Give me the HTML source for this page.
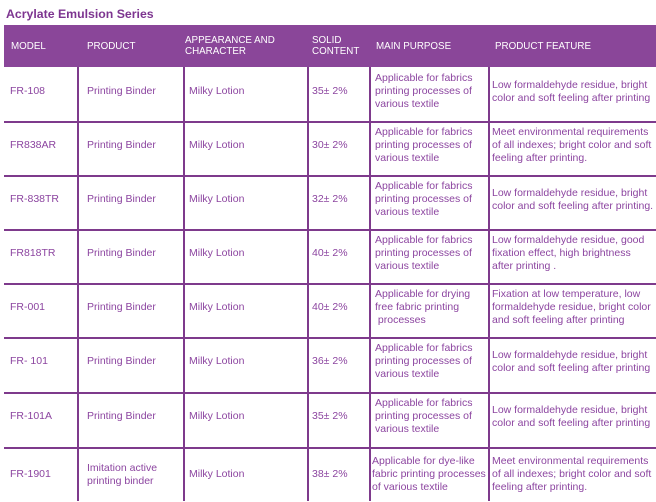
<!DOCTYPE html>
<html><head><meta charset="utf-8"><style>
body{margin:0;width:656px;height:501px;background:#fff;overflow:hidden;position:relative;font-family:"Liberation Sans",sans-serif}
.t{position:absolute;left:6px;top:7px;font-weight:bold;font-size:12.3px;color:#7d3590}
.hd{position:absolute;left:4px;top:25px;width:652px;height:42px;background:#8a4699}
.v{position:absolute;top:67px;bottom:0;width:1.5px;background:#7e3a8c}
.h{position:absolute;left:4px;width:652px;height:1.5px;background:#7e3a8c}
.c{position:absolute;display:flex;align-items:center;font-size:10.5px;line-height:13px;color:#8c45a0;box-sizing:border-box;padding-bottom:6px;white-space:nowrap}
.hc{position:absolute;display:flex;align-items:center;font-size:9.8px;line-height:11px;color:#fff;top:25px;height:42px}
</style></head><body>
<div class="t">Acrylate Emulsion Series</div>
<div class="hd"></div>
<div class="hc" style="left:11px">MODEL</div>
<div class="hc" style="left:87px">PRODUCT</div>
<div class="hc" style="left:185px">APPEARANCE AND<br>CHARACTER</div>
<div class="hc" style="left:312px">SOLID<br>CONTENT</div>
<div class="hc" style="left:376px">MAIN PURPOSE</div>
<div class="hc" style="left:495px">PRODUCT FEATURE</div>
<div class="v" style="left:77px"></div>
<div class="v" style="left:183px"></div>
<div class="v" style="left:307px"></div>
<div class="v" style="left:369px"></div>
<div class="v" style="left:488px"></div>
<div class="h" style="top:121px"></div>
<div class="h" style="top:175px"></div>
<div class="h" style="top:229px"></div>
<div class="h" style="top:283px"></div>
<div class="h" style="top:337px"></div>
<div class="h" style="top:392px"></div>
<div class="h" style="top:447px"></div>
<div id="rows"></div>
<script>
var R=[
["FR-108","Printing Binder","35± 2%","Applicable for fabrics<br>printing processes of<br>various textile","Low formaldehyde residue, bright<br>color and soft feeling after printing"],
["FR838AR","Printing Binder","30± 2%","Applicable for fabrics<br>printing processes of<br>various textile","Meet environmental requirements<br>of all indexes; bright color and soft<br>feeling after printing."],
["FR-838TR","Printing Binder","32± 2%","Applicable for fabrics<br>printing processes of<br>various textile","Low formaldehyde residue, bright<br>color and soft feeling after printing."],
["FR818TR","Printing Binder","40± 2%","Applicable for fabrics<br>printing processes of<br>various textile","Low formaldehyde residue, good<br>fixation effect, high brightness<br>after printing ."],
["FR-001","Printing Binder","40± 2%","Applicable for drying<br>free fabric printing<br>&nbsp;processes","Fixation at low temperature, low<br>formaldehyde residue, bright color<br>and soft feeling after printing"],
["FR- 101","Printing Binder","36± 2%","Applicable for fabrics<br>printing processes of<br>various textile","Low formaldehyde residue, bright<br>color and soft feeling after printing"],
["FR-101A","Printing Binder","35± 2%","Applicable for fabrics<br>printing processes of<br>various textile","Low formaldehyde residue, bright<br>color and soft feeling after printing"],
["FR-1901","Imitation active<br>printing binder","38± 2%","Applicable for dye-like<br>fabric printing processes<br>of various textile","Meet environmental requirements<br>of all indexes; bright color and soft<br>feeling after printing."]];
var tops=[67,121,175,229,283,337,392,447];
var xs=[[10,67],[87,96],[189,118],[312,57],[375,113],[492,164]];
var h="";
R.forEach(function(r,i){
 var cells=[r[0],r[1],"Milky Lotion",r[2],r[3],r[4]];
 var pb=(i==7)?0:6;
 cells.forEach(function(t,j){
  var x=xs[j][0]; if(j==4&&i==7)x=372;
  h+='<div class="c" style="left:'+x+'px;top:'+tops[i]+'px;height:55px;width:'+xs[j][1]+'px;padding-bottom:'+pb+'px">'+'<span>'+t+'</span></div>';
 });
});
document.getElementById("rows").innerHTML=h;
</script>
</body></html>
